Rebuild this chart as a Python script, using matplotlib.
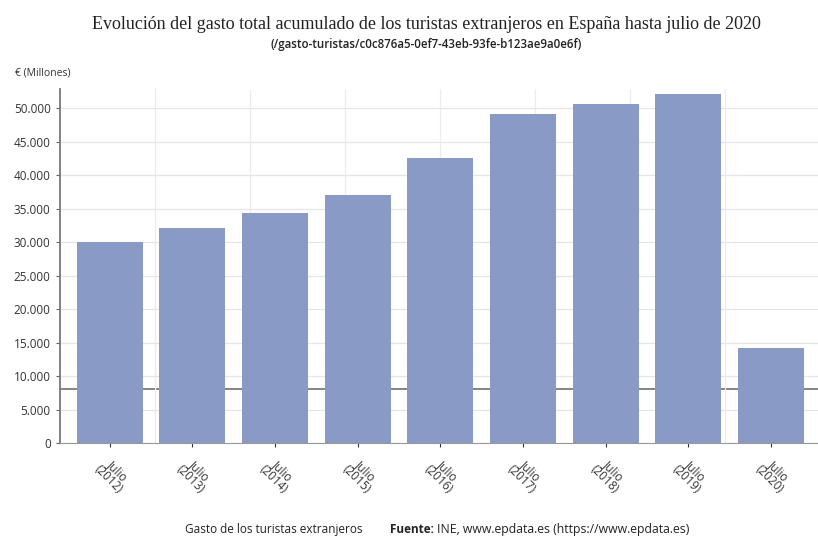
import numpy as np
import matplotlib.pyplot as plt
import matplotlib.transforms as mtransforms
from matplotlib.ticker import FuncFormatter

# datos (millones de euros)
years = ['2012', '2013', '2014', '2015', '2016', '2017', '2018', '2019', '2020']
gasto = [30000, 32100, 34400, 37000, 42600, 49100, 50600, 52200, 14200]
labels = ['Julio\n(%s)' % y for y in years]
linea_ref = 8000

fig = plt.figure(figsize=(8.18, 5.38), dpi=100)
ax = fig.add_axes([0.073, 0.1766, 0.927, 0.658])

x = np.arange(len(years))
ax.axhline(linea_ref, color='#707070', lw=1.2, zorder=1)
ax.bar(x, gasto, width=0.8, color='#8a9ac7', zorder=2)

ax.set_xlim(-0.605, 8.57)
ax.set_ylim(0, 52900)
ax.set_yticks(np.arange(0, 50001, 5000))
ax.yaxis.set_major_formatter(FuncFormatter(lambda v, p: '{:,.0f}'.format(v).replace(',', '.')))
ax.grid(axis='y', color='#e6e6e6', lw=0.9, zorder=0)

# rejilla vertical
ax.set_xticks(np.arange(0.545, 8.5, 1.15), minor=True)
ax.grid(axis='x', which='minor', color='#ececec', lw=0.9, zorder=0)
ax.tick_params(axis='x', which='minor', length=0)

# etiquetas del eje x giradas, colocadas a mano bajo cada marca
ax.set_xticks(x)
ax.set_xticklabels([])
ax.tick_params(axis='x', which='major', length=3, color='#333333')
trans = ax.get_xaxis_transform() + mtransforms.ScaledTranslation(0.03, -0.32, fig.dpi_scale_trans)
for xi, lab in zip(x, labels):
    ax.text(xi, 0, lab, transform=trans, rotation=-45, ha='center', va='center',
            multialignment='center', fontsize=8.5, family='Open Sans', color='#333333',
            linespacing=1.0)

ax.tick_params(axis='y', length=3, color='#666666', labelsize=8.5, labelcolor='#333333')
for lbl in ax.get_yticklabels():
    lbl.set_family('Open Sans')

for s in ['top', 'right']:
    ax.spines[s].set_visible(False)
ax.spines['left'].set_color('#777777')
ax.spines['left'].set_linewidth(1.3)
ax.spines['bottom'].set_color('#999999')

fig.text(0.521, 0.955, 'Evolución del gasto total acumulado de los turistas extranjeros en España hasta julio de 2020',
         ha='center', va='center', fontsize=13, family='Liberation Serif', color='#222222')
fig.text(0.521, 0.918, '(/gasto-turistas/c0c876a5-0ef7-43eb-93fe-b123ae9a0e6f)',
         ha='center', va='center', fontsize=8.3, family='Open Sans', color='#222222', weight='semibold')
fig.text(0.018, 0.865, '€ (Millones)', ha='left', va='center', fontsize=7.5,
         family='Open Sans', color='#333333')

fig.text(0.226, 0.016, 'Gasto de los turistas extranjeros', ha='left', va='center',
         fontsize=8.5, family='Open Sans', color='#222222')
fig.text(0.477, 0.016, 'Fuente:', ha='left', va='center', fontsize=8.5,
         family='Open Sans', weight='bold', color='#222222')
fig.text(0.534, 0.016, 'INE, www.epdata.es (https://www.epdata.es)', ha='left', va='center',
         fontsize=8.8, family='Open Sans', color='#222222')

fig.savefig('out.png', dpi=100, facecolor='white')
